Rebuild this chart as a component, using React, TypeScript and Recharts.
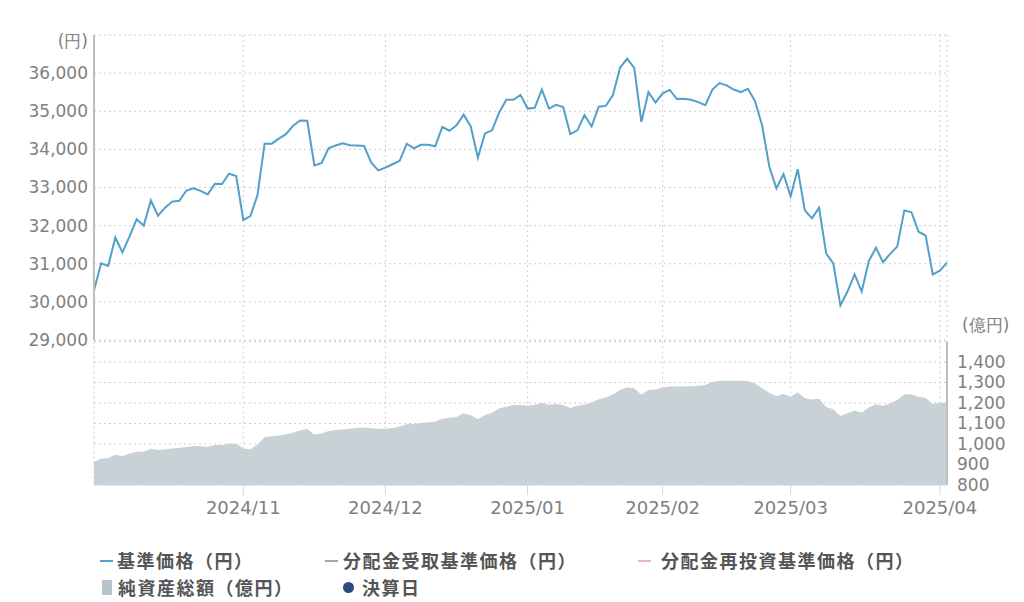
import React from 'react';
import { LineChart, Line, AreaChart, Area, XAxis, YAxis, CartesianGrid } from 'recharts';

// business days shown on the x axis, per month
const octDays = [2, 3, 4, 7, 8, 9, 10, 11, 15, 16, 17, 18, 21, 22, 23, 24, 25, 28, 29, 30, 31];
const novDays = [1, 5, 6, 7, 8, 11, 12, 13, 14, 15, 18, 19, 20, 21, 22, 25, 26, 27, 28, 29];
const decDays = [2, 3, 4, 5, 6, 9, 10, 11, 12, 13, 16, 17, 18, 19, 20, 23, 24, 26, 27, 30];
const janDays = [6, 7, 8, 9, 10, 14, 15, 16, 17, 20, 21, 22, 23, 24, 27, 28, 29, 30, 31];
const febDays = [3, 4, 5, 6, 7, 10, 12, 13, 14, 17, 18, 19, 20, 21, 25, 26, 27, 28];
const marDays = [3, 4, 5, 6, 7, 10, 11, 12, 13, 14, 17, 18, 19, 20, 21, 24, 25, 26, 27, 28, 31];
const aprDays = [1, 2];

const months = [
  { ym: '2024/10', days: octDays },
  { ym: '2024/11', days: novDays },
  { ym: '2024/12', days: decDays },
  { ym: '2025/01', days: janDays },
  { ym: '2025/02', days: febDays },
  { ym: '2025/03', days: marDays },
  { ym: '2025/04', days: aprDays },
];

// 基準価格（円）
const navValues = [
  30300, 31010, 30940, 31690, 31300, 31720, 32170, 32000, 32660, 32260,
  32470, 32630, 32650, 32920, 32980, 32910, 32820, 33100, 33090, 33360,
  33300, 32150, 32250, 32800, 34150, 34150, 34280, 34400, 34620, 34760,
  34750, 33580, 33640, 34030, 34100, 34160, 34110, 34100, 34090, 33650,
  33450, 33520, 33610, 33700, 34150, 34030, 34120, 34120, 34080, 34590,
  34490, 34630, 34910, 34600, 33780, 34420, 34500, 34970, 35300, 35300,
  35430, 35070, 35090, 35570, 35070, 35170, 35110, 34400, 34500, 34900,
  34600, 35120, 35140, 35420, 36140, 36380, 36140, 34720, 35500, 35230,
  35470, 35560, 35320, 35330, 35300, 35240, 35160, 35570, 35740, 35680,
  35570, 35500, 35590, 35260, 34620, 33550, 32980, 33350, 32770, 33480,
  32400, 32190, 32470, 31270, 31010, 29910, 30270, 30720, 30270, 31070,
  31420, 31040, 31260, 31450, 32400, 32350, 31840, 31740, 30720, 30820,
  31030,
];

// 純資産総額（億円）
const assetValues = [
  914, 928, 932, 948, 942, 954, 962, 962, 977, 971,
  975, 978, 980, 985, 990, 989, 987, 995, 995, 1002,
  1001, 978, 975, 998, 1033, 1038, 1042, 1047, 1055, 1067,
  1073, 1046, 1051, 1063, 1068, 1071, 1074, 1078, 1081, 1077,
  1074, 1073, 1078, 1085, 1096, 1098, 1102, 1106, 1108, 1123,
  1128, 1132, 1150, 1140, 1122, 1141, 1153, 1175, 1182, 1190,
  1190, 1186, 1192, 1201, 1191, 1195, 1190, 1176, 1186, 1193,
  1203, 1218, 1227, 1242, 1265, 1276, 1272, 1240, 1263, 1266,
  1276, 1280, 1280, 1280, 1282, 1284, 1288, 1303, 1309, 1309,
  1309, 1308, 1307, 1295, 1272, 1250, 1233, 1244, 1230, 1252,
  1223, 1217, 1221, 1180, 1169, 1137, 1150, 1164, 1152, 1178,
  1194, 1186, 1198, 1215, 1243, 1242, 1230, 1224, 1195, 1201,
  1201,
];

const tickDates = ['2024/11/01', '2024/12/02', '2025/01/06', '2025/02/03', '2025/03/03', '2025/04/01'];
const priceTicks = [29000, 30000, 31000, 32000, 33000, 34000, 35000, 36000, 37000];
const assetTicks = [800, 900, 1000, 1100, 1200, 1300, 1400, 1500];

const dates = months.flatMap((m) => m.days.map((d) => `${m.ym}/${String(d).padStart(2, '0')}`));
const data = dates.map((date, i) => ({ date, nav: navValues[i], assets: assetValues[i] }));

const labelColor = '#808080';
const tickFont = 'DejaVu Sans, sans-serif';
const fmt = (v: number) => v.toLocaleString('en-US');

const PriceTick = (props: any) => {
  const { x, y, payload } = props;
  const isUnit = payload.value === 37000;
  return (
    <text x={x} y={isUnit ? y + 6 : y} dy="0.35em" textAnchor="end" fill={labelColor} fontSize={17} fontFamily={tickFont}>
      {isUnit ? '(円)' : fmt(payload.value)}
    </text>
  );
};

const AssetTick = (props: any) => {
  const { x, y, payload } = props;
  const isUnit = payload.value === 1500;
  return (
    <text x={isUnit ? x + 5 : x} y={isUnit ? y - 16 : y} dy="0.35em" textAnchor="start" fill={labelColor} fontSize={17} fontFamily={tickFont}>
      {isUnit ? '(億円)' : fmt(payload.value)}
    </text>
  );
};

const legendText: React.CSSProperties = {
  position: 'absolute',
  fontFamily: '"Noto Sans CJK JP", sans-serif',
  fontWeight: 700,
  fontSize: 18,
  letterSpacing: 1.5,
  color: '#555',
  lineHeight: '26px',
  whiteSpace: 'nowrap',
};

const LegendLine = ({ left, top, color }: { left: number; top: number; color: string }) => (
  <div style={{ position: 'absolute', left, top, width: 13, height: 2, background: color }} />
);

const App = () => {
  return (
    <div style={{ position: 'absolute', left: 0, top: 0, width: 1024, height: 602, background: '#fff' }}>
      <div style={{ position: 'absolute', left: 0, top: 0 }}>
        <LineChart width={1024} height={360} data={data} margin={{ top: 35, right: 77, bottom: 20, left: 10 }}>
          <CartesianGrid stroke="#cfcfcf" strokeDasharray="2 3" />
          <XAxis dataKey="date" hide ticks={tickDates} interval={0} />
          <YAxis
            domain={[29000, 37000]}
            ticks={priceTicks}
            interval={0}
            width={84}
            axisLine={{ stroke: '#bdbdbd', strokeWidth: 2 }}
            tickLine={false}
            tickSize={0}
            tickMargin={6}
            tick={<PriceTick />}
          />
          <Line type="linear" dataKey="nav" stroke="#529fca" strokeWidth={2} dot={false} isAnimationActive={false} />
        </LineChart>
      </div>

      <div style={{ position: 'absolute', left: 0, top: 300 }}>
        <AreaChart width={1024} height={230} data={data} margin={{ top: 41.5, right: 0, bottom: 5, left: 94 }}>
          <CartesianGrid stroke="#cfcfcf" strokeDasharray="2 3" />
          <XAxis
            dataKey="date"
            ticks={tickDates}
            interval={0}
            height={40}
            tickFormatter={(d: string) => d.slice(0, 7)}
            axisLine={{ stroke: '#ccd6eb' }}
            tickLine={{ stroke: '#ccd6eb' }}
            tickSize={10}
            tickMargin={6}
            tick={{ fill: labelColor, fontSize: 18, fontFamily: tickFont }}
          />
          <YAxis
            orientation="right"
            domain={[800, 1500]}
            ticks={assetTicks}
            interval={0}
            width={77}
            axisLine={{ stroke: '#bdbdbd', strokeWidth: 2 }}
            tickLine={false}
            tickSize={0}
            tickMargin={10}
            tick={<AssetTick />}
          />
          <Area type="linear" dataKey="assets" stroke="none" fill="#c8d2d6" fillOpacity={1} isAnimationActive={false} />
        </AreaChart>
      </div>

      <LegendLine left={100} top={560} color="#529fca" />
      <div style={{ ...legendText, left: 117, top: 547 }}>基準価格（円）</div>
      <LegendLine left={325} top={560} color="#9aaeaa" />
      <div style={{ ...legendText, left: 343, top: 547 }}>分配金受取基準価格（円）</div>
      <LegendLine left={638} top={560} color="#f2b5b5" />
      <div style={{ ...legendText, left: 661, top: 547 }}>分配金再投資基準価格（円）</div>

      <div style={{ position: 'absolute', left: 102, top: 580, width: 10, height: 15, background: '#b7c4cb' }} />
      <div style={{ ...legendText, left: 118, top: 574 }}>純資産総額（億円）</div>
      <div style={{ position: 'absolute', left: 343, top: 582, width: 11, height: 11, borderRadius: '50%', background: '#2c4a7c' }} />
      <div style={{ ...legendText, left: 362, top: 574 }}>決算日</div>
    </div>
  );
};

export default App;
